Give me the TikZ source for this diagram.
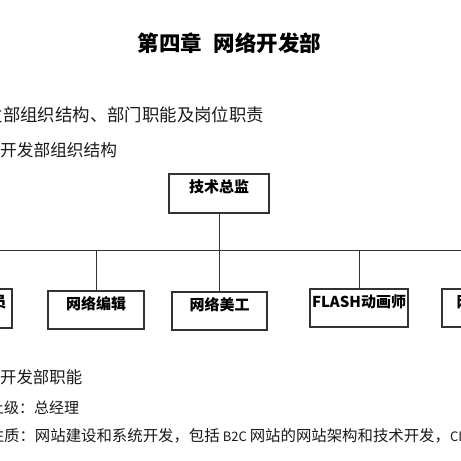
\documentclass[tikz,border=0pt]{standalone}
\usepackage{fontspec}
\newfontfamily\cjk{Noto Sans CJK SC}
\definecolor{ink}{HTML}{1A1A1A}
\definecolor{frame}{HTML}{333333}
\begin{document}
\begin{tikzpicture}[x=1pt,y=-1pt,
  orgbox/.style={draw=frame, line width=1.8pt, rectangle, inner sep=0pt,
    text height=10pt, text depth=12pt, text=black,
    font=\cjk\bfseries\fontsize{15}{16}\selectfont},
  link/.style={draw=frame, line width=0.9pt},
  bodytext/.style={anchor=west, inner sep=0pt, text=ink}]
\useasboundingbox (0,0) rectangle (461,461);
\clip (0,0) rectangle (461,461);
\fill[white] (0,0) rectangle (461,461);

% title
\node[font=\cjk\bfseries\fontsize{21.5}{24}\selectfont, inner sep=0pt] (title) at (229.5,43) {第四章\hspace{0.55em}网络开发部};

% body lines
\node[bodytext, font=\cjk\fontsize{17.4}{20}\selectfont] (l1) at (3,115) {\llap{一、网络开发}部组织结构、部门职能及岗位职责};
\node[bodytext, font=\cjk\fontsize{16.7}{20}\selectfont] (l2) at (0,150) {\llap{（一）网络}开发部组织结构};
\node[bodytext, font=\cjk\fontsize{16.4}{20}\selectfont] (l3) at (0,377) {\llap{（二）网络}开发部职能};
\node[bodytext, font=\cjk\fontsize{15}{18}\selectfont] (l4) at (4,408) {\llap{1、直接上}级：总经理};
\node[bodytext, font=\cjk\fontsize{15.4}{18}\selectfont] (l5) at (4,436) {\llap{2、部门性}质：网站建设和系统开发，包括\hspace{3pt}{\fontsize{13}{16}\selectfont B2C}\hspace{3pt}网站的网站架构和技术开发，{\fontsize{13}{16}\selectfont CI}};

% org chart boxes
\node[orgbox, minimum width=100pt, minimum height=39pt] (cto) at (219,193.5) {技术总监};
\node[orgbox, minimum width=96pt, minimum height=39pt] (left) at (-36,308.5) {\hspace*{10pt}网站程序员};
\node[orgbox, minimum width=96pt, minimum height=38pt] (edit) at (96,310) {网络编辑};
\node[orgbox, minimum width=95pt, minimum height=38pt] (art) at (219.5,311) {网络美工};
\node[orgbox, minimum width=98pt, minimum height=38pt] (flash) at (359,308) {FLASH动画师};
\node[orgbox, minimum width=104pt, minimum height=38pt] (right) at (494,308) {网页设计师};

% connectors
\coordinate (bus) at (219,250);
\coordinate (busL) at (-100,250);
\coordinate (busR) at (560,250);
\draw[link] (busL) -- (busR);
\draw[link] (cto.south) -- (bus);
\draw[link] (edit.north) -- (edit.north |- bus);
\draw[link] (art.north) -- (art.north |- bus);
\draw[link] (flash.north) -- (flash.north |- bus);
\draw[link] (left.north) -- (left.north |- bus);
\draw[link] (right.north) -- (right.north |- bus);
\end{tikzpicture}
\end{document}
